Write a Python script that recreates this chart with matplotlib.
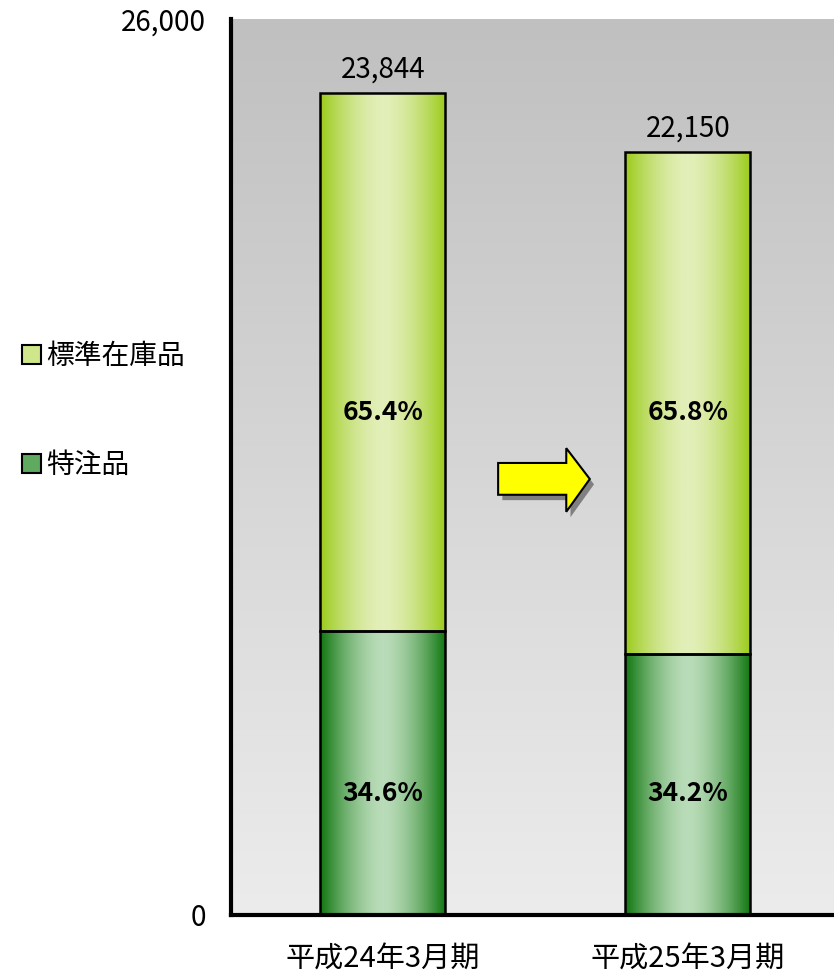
import numpy as np
import matplotlib
matplotlib.use("Agg")
import matplotlib.pyplot as plt
from matplotlib.colors import LinearSegmentedColormap
from matplotlib.patches import Polygon, Patch

plt.rcParams["font.family"] = ["Noto Sans CJK JP", "DejaVu Sans"]

# データ
periods = ["平成24年3月期", "平成25年3月期"]
totals = [23844, 22150]
special_pct = [34.6, 34.2]      # 特注品
standard_pct = [65.4, 65.8]     # 標準在庫品
series_names = ["特注品", "標準在庫品"]

special = [t * p / 100 for t, p in zip(totals, special_pct)]
standard = [t - s for t, s in zip(totals, special)]

# グラデーション色 (端, 中央)
dark_edge, dark_mid = "#0f760f", "#b9dcb8"
light_edge, light_mid = "#9bcb1a", "#e3efb9"

fig = plt.figure(figsize=(8.34, 9.77), dpi=100)
ax = fig.add_axes([231 / 834, 62 / 977, 603 / 834, 896 / 977])

# 背景グラデーション
bg = LinearSegmentedColormap.from_list("bg", ["#ececec", "#c0c0c0"])
ax.imshow(np.linspace(0, 1, 256).reshape(-1, 1), cmap=bg, origin="lower",
          extent=[0, 1, 0, 1], transform=ax.transAxes, aspect="auto", zorder=0)

x = np.arange(len(periods))
width = 0.41
b1 = ax.bar(x, special, width, color="none", edgecolor="black", linewidth=1.8, zorder=3)
b2 = ax.bar(x, standard, width, bottom=special, color="none", edgecolor="black",
            linewidth=1.8, zorder=3)


def shade(bars, edge, mid):
    cmap = LinearSegmentedColormap.from_list("g", [edge, mid])
    t = np.linspace(0, 1, 200)
    w = (1 - np.abs(2 * t - 1) ** 1.6)
    for bar in bars:
        x0, y0 = bar.get_x(), bar.get_y()
        im = ax.imshow(w.reshape(1, -1), cmap=cmap, vmin=0, vmax=1, aspect="auto",
                       extent=[x0, x0 + bar.get_width(), y0, y0 + bar.get_height()],
                       zorder=2)
        im.set_clip_path(bar)


shade(b1, dark_edge, dark_mid)
shade(b2, light_edge, light_mid)

ax.set_xlim(-0.498, 1.479)
ax.set_ylim(0, 26000)

# 合計値
for xi, t in zip(x, totals):
    ax.annotate(f"{t:,}", (xi, t), xytext=(0, 6), textcoords="offset points",
                ha="center", va="bottom", fontsize=20)

# 構成比
for xi, sp, st in zip(x, special_pct, standard_pct):
    ax.text(xi, 0.561, f"{st:.1f}%", transform=ax.get_xaxis_transform(),
            ha="center", va="center", fontsize=19, fontweight="bold", zorder=4)
    ax.text(xi, 0.136, f"{sp:.1f}%", transform=ax.get_xaxis_transform(),
            ha="center", va="center", fontsize=19, fontweight="bold", zorder=4)

# 矢印
pts = np.array([[0.443, 0.5045], [0.556, 0.5045], [0.556, 0.521], [0.595, 0.4866],
                [0.556, 0.450], [0.556, 0.469], [0.443, 0.469]])
shadow = Polygon(pts + [0.007, -0.006], closed=True, transform=ax.transAxes,
                 facecolor="#808080", edgecolor="none", zorder=4)
arrow = Polygon(pts, closed=True, transform=ax.transAxes, facecolor="#ffff00",
                edgecolor="black", linewidth=1.5, zorder=5)
ax.add_patch(shadow)
ax.add_patch(arrow)

ax.set_xticks(x)
ax.set_xticklabels(periods, fontsize=21)
ax.set_yticks([0, 26000])
ax.set_yticklabels(["0", "26,000"], fontsize=20)
ax.tick_params(axis="both", length=0)
ax.tick_params(axis="y", pad=18)
ax.tick_params(axis="x", pad=21)
for side in ["top", "right"]:
    ax.spines[side].set_visible(False)
for side in ["left", "bottom"]:
    ax.spines[side].set_linewidth(3)
    ax.spines[side].set_zorder(6)

handles = [Patch(facecolor="#cfe68a", edgecolor="black", linewidth=1.5),
           Patch(facecolor="#5faa5f", edgecolor="black", linewidth=1.5)]
fig.legend(handles, [series_names[1], series_names[0]], loc="upper left",
           bbox_to_anchor=(-0.003, 1 - 316 / 977), frameon=False, fontsize=20,
           handlelength=0.65, handleheight=0.65, handletextpad=0.2, labelspacing=2.85)

fig.savefig("out.png", dpi=100)
